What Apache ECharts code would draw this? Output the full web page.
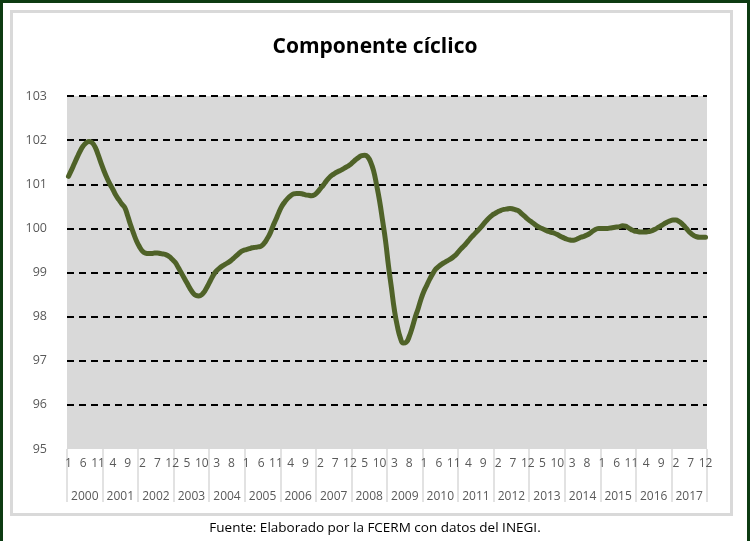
<!DOCTYPE html>
<html>
<head>
<meta charset="utf-8">
<script src="https://cdn.jsdelivr.net/npm/echarts@6/dist/echarts.min.js"></script>
<style>
  html, body { margin: 0; padding: 0; background: #ffffff; }
  #frame { position: absolute; left: 0; top: 0; width: 750px; height: 541px; box-sizing: border-box;
           border-top: 3px solid #0d3b12; border-left: 3px solid #0d3b12; border-right: 3px solid #0d3b12; }
  #panel { position: absolute; left: 10px; top: 10px; width: 723px; height: 506px; box-sizing: border-box;
           border: 3px solid #d9d9d9; background: #ffffff; }
  #chart { position: absolute; left: 0; top: 0; width: 750px; height: 541px; }
</style>
</head>
<body>
<div id="frame"></div>
<div id="panel"></div>
<div id="chart"></div>
<script>
// ---- data ----
const titleText = 'Componente cíclico';
const sourceText = 'Fuente: Elaborado por la FCERM con datos del INEGI.';
const years = ['2000','2001','2002','2003','2004','2005','2006','2007','2008',
               '2009','2010','2011','2012','2013','2014','2015','2016','2017'];
const months = ['1','2','3','4','5','6','7','8','9','10','11','12'];
const yTicks = [95, 96, 97, 98, 99, 100, 101, 102, 103];
// monthly cyclical component, Jan 2000 - Dec 2017 (one row per year)
const values = [
  101.18, 101.32, 101.47, 101.62, 101.76, 101.87, 101.94, 101.97, 101.94, 101.84, 101.67, 101.48, // 2000
  101.30, 101.14, 101.00, 100.88, 100.75, 100.65, 100.55, 100.47, 100.28, 100.07,  99.88,  99.71, // 2001
   99.58,  99.48,  99.44,  99.43,  99.43,  99.44,  99.44,  99.43,  99.42,  99.40,  99.36,  99.30, // 2002
   99.23,  99.12,  99.00,  98.88,  98.76,  98.64,  98.54,  98.48,  98.47,  98.50,  98.58,  98.70, // 2003
   98.83,  98.95,  99.04,  99.10,  99.15,  99.19,  99.23,  99.28,  99.34,  99.40,  99.46,  99.50, // 2004
   99.52,  99.54,  99.56,  99.57,  99.58,  99.60,  99.66,  99.76,  99.88, 100.05, 100.20, 100.36, // 2005
  100.50, 100.60, 100.68, 100.74, 100.78, 100.79, 100.79, 100.78, 100.76, 100.75, 100.74, 100.76, // 2006
  100.82, 100.90, 100.98, 101.07, 101.15, 101.21, 101.25, 101.29, 101.32, 101.36, 101.40, 101.44, // 2007
  101.50, 101.56, 101.61, 101.65, 101.66, 101.62, 101.50, 101.30, 100.98, 100.62, 100.18,  99.72, // 2008
   99.15,  98.65,  98.15,  97.78,  97.52,  97.40,  97.42,  97.55,  97.75,  97.98,  98.18,  98.40, // 2009
   98.58,  98.72,  98.86,  98.98,  99.08,  99.14,  99.19,  99.23,  99.27,  99.31,  99.36,  99.42, // 2010
   99.50,  99.57,  99.64,  99.72,  99.80,  99.87,  99.94, 100.01, 100.09, 100.17, 100.24, 100.30, // 2011
  100.34, 100.38, 100.41, 100.43, 100.44, 100.45, 100.44, 100.42, 100.39, 100.33, 100.27, 100.21, // 2012
  100.16, 100.11, 100.06, 100.02,  99.99,  99.96,  99.93,  99.91,  99.89,  99.86,  99.82,  99.79, // 2013
   99.76,  99.74,  99.73,  99.74,  99.77,  99.80,  99.82,  99.85,  99.89,  99.94,  99.98, 100.00, // 2014
  100.00, 100.00, 100.00, 100.01, 100.02, 100.03, 100.04, 100.06, 100.05, 100.01,  99.97,  99.94, // 2015
   99.93,  99.92,  99.92,  99.92,  99.93,  99.95,  99.98, 100.02, 100.06, 100.10, 100.14, 100.17, // 2016
  100.19, 100.19, 100.16, 100.11, 100.04,  99.96,  99.89,  99.84,  99.81,  99.80,  99.80,  99.80  // 2017
];

// ---- build ----
const categories = [];
years.forEach(y => months.forEach(m => categories.push(y + '-' + m)));

const FONT = '"Open Sans", "Noto Sans", sans-serif';
const chart = echarts.init(document.getElementById('chart'), null, { renderer: 'canvas' });

const splitColors = yTicks.map((t, i) => i === 0 ? 'rgba(0,0,0,0)' : '#000000');

chart.setOption({
  animation: false,
  backgroundColor: 'transparent',
  graphic: [
    { type: 'text', left: 'center', top: 37,
      style: { text: titleText, font: 'bold 21px ' + FONT, fill: '#000000' }, z: 10 },
    { type: 'text', top: 521, left: 'center',
      style: { text: sourceText, font: '13.5px ' + FONT, fill: '#000000' }, z: 10 }
  ],
  grid: { left: 67, right: 43, top: 96, bottom: 92, show: true, backgroundColor: '#d9d9d9', borderWidth: 0 },
  xAxis: [
    {
      type: 'category', data: categories, boundaryGap: true,
      axisLine: { show: false }, axisTick: { show: false },
      axisLabel: {
        interval: (i) => i % 5 === 0,
        formatter: (v) => v.split('-')[1],
        color: '#595959', fontSize: 12, fontFamily: FONT, margin: 9
      },
      splitLine: { show: false }
    },
    {
      type: 'category', data: years, boundaryGap: true, position: 'bottom',
      axisLine: { show: false },
      axisTick: { show: true, interval: 0, length: 53, lineStyle: { color: '#d9d9d9', width: 1.5 } },
      axisLabel: { interval: 0, color: '#595959', fontSize: 12, fontFamily: FONT, margin: 42 },
      splitLine: { show: false }
    }
  ],
  yAxis: {
    type: 'value', min: yTicks[0], max: yTicks[yTicks.length - 1], interval: 1,
    axisLine: { show: false }, axisTick: { show: false },
    axisLabel: { color: '#595959', fontSize: 12.5, fontFamily: FONT, margin: 20 },
    splitLine: { show: true, lineStyle: { color: splitColors, width: 2, type: [7, 5] } }
  },
  series: [{
    type: 'line', data: values, xAxisIndex: 0, yAxisIndex: 0,
    smooth: true, symbol: 'none',
    lineStyle: { color: '#4f6228', width: 5, cap: 'round', join: 'round' },
    z: 5
  }]
});
</script>
</body>
</html>
